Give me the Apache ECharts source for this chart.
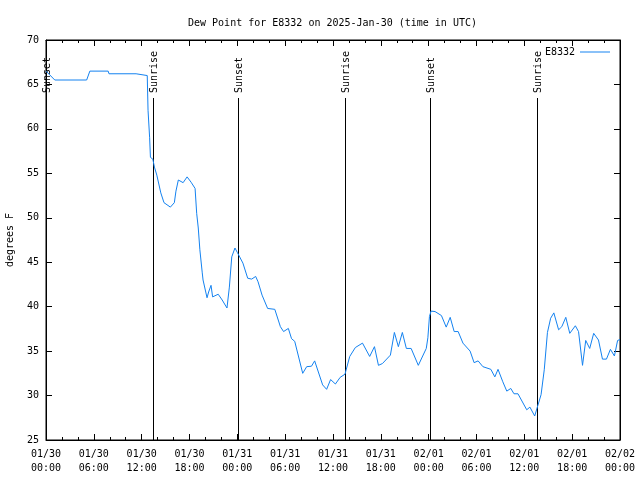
<!DOCTYPE html>
<html>
<head>
<meta charset="utf-8">
<script src="https://cdn.jsdelivr.net/npm/echarts@6/dist/echarts.min.js"></script>
<style>html,body{margin:0;padding:0;background:#fff}#c{width:640px;height:480px}</style>
</head>
<body>
<div id="c"></div>
<script>
// Hours since 2025-01-30 00:00 UTC
const hours = [0.0,1.1,5.1,5.5,7.8,7.9,11.3,11.4,12.7,12.8,13.0,13.1,13.4,13.6,13.9,14.4,14.8,15.6,16.1,16.3,16.6,17.2,17.7,18.2,18.7,18.9,19.1,19.3,19.6,19.7,20.2,20.4,20.7,20.9,21.6,22.1,22.7,23.0,23.3,23.7,24.0,24.1,24.7,25.3,25.8,26.3,26.6,27.1,27.8,28.7,29.4,29.8,30.4,30.8,31.2,32.2,32.7,33.3,33.7,34.7,35.2,35.7,36.3,36.9,37.5,38.1,38.8,39.7,40.6,41.2,41.7,42.2,43.2,43.7,44.2,44.7,45.2,45.8,46.7,47.7,47.9,48.1,48.3,48.8,49.6,50.2,50.7,51.2,51.7,52.3,53.2,53.7,54.2,54.8,55.8,56.3,56.7,57.3,57.8,58.3,58.7,59.2,60.3,60.7,61.3,61.6,62.1,62.5,62.9,63.3,63.7,64.3,64.7,65.2,65.7,66.4,66.8,67.3,67.7,68.2,68.7,69.3,69.8,70.3,70.8,71.3,71.7,72.0];
const dewPoint = [66.5,65.5,65.5,66.5,66.5,66.2,66.2,66.0,66.0,62.1,59.0,56.8,56.6,55.7,54.8,52.8,51.7,51.2,51.7,53.0,54.25,53.95,54.6,54.0,53.3,50.5,48.85,46.4,43.8,43.0,41.0,41.65,42.4,41.1,41.4,40.75,39.85,42.2,45.6,46.6,46.1,45.9,44.9,43.2,43.1,43.4,42.8,41.3,39.8,39.7,37.75,37.2,37.55,36.4,36.1,32.5,33.25,33.3,33.9,31.2,30.7,31.8,31.3,32.05,32.4,34.4,35.4,35.9,34.4,35.5,33.4,33.6,34.55,37.1,35.5,37.1,35.3,35.3,33.4,35.3,36.5,38.9,39.5,39.45,39.0,37.7,38.8,37.2,37.2,35.9,35.0,33.7,33.9,33.25,32.95,32.1,32.95,31.55,30.5,30.8,30.2,30.2,28.4,28.7,27.7,28.6,30.1,32.9,37.1,38.7,39.3,37.4,37.75,38.8,37.0,37.85,37.2,33.4,36.2,35.3,37.0,36.25,34.1,34.1,35.2,34.45,36.2,36.3];
const xTickLabels = ["01/30\n00:00","01/30\n06:00","01/30\n12:00","01/30\n18:00","01/31\n00:00","01/31\n06:00","01/31\n12:00","01/31\n18:00","02/01\n00:00","02/01\n06:00","02/01\n12:00","02/01\n18:00","02/02\n00:00"];
const sunEventHours = [0.0, 13.4, 24.1, 37.5, 48.2, 61.6];
const sunEventLabels = ["Sunset","Sunrise","Sunset","Sunrise","Sunset","Sunrise"];
const seriesName = "E8332";
const titleText = "Dew Point for E8332 on 2025-Jan-30 (time in UTC)";

const FONT = "'DejaVu Sans Mono', 'Liberation Mono', monospace";
const LINE_COLOR = '#1482f0';
const chart = echarts.init(document.getElementById('c'), null, {renderer: 'canvas'});
const pairs = hours.map((h, i) => [h, dewPoint[i]]);
const sunData = sunEventHours.map((h, i) => [h, i]);

chart.setOption({
  animation: false,
  backgroundColor: '#fff',
  textStyle: {fontFamily: FONT, fontSize: 10, color: '#000'},
  title: {
    text: titleText, left: 183, top: 13,
    textStyle: {fontFamily: FONT, fontSize: 10, fontWeight: 'normal', color: '#000'}
  },
  legend: {
    data: [seriesName], right: 25, top: 42, align: 'right',
    itemWidth: 30, itemHeight: 1, icon: 'rect', itemGap: 0,
    textStyle: {fontFamily: FONT, fontSize: 10, color: '#000', padding: [0, 0, 0, 0]}
  },
  grid: {left: 46, right: 20, top: 40, bottom: 40, show: true, borderColor: '#000', borderWidth: 1, containLabel: false, outerBoundsMode: 'none'},
  xAxis: [{
    type: 'value', min: 0, max: 72, interval: 6, position: 'bottom',
    axisLine: {onZero: false, lineStyle: {color: '#000', width: 1}},
    axisTick: {inside: true, length: 6, lineStyle: {color: '#000'}},
    minorTick: {show: true, splitNumber: 3, length: 3, lineStyle: {color: '#000'}},
    splitLine: {show: false},
    axisLabel: {
      fontFamily: FONT, fontSize: 10, color: '#000', margin: 7, lineHeight: 14,
      formatter: v => xTickLabels[Math.round(v / 6)]
    }
  }, {
    type: 'value', min: 0, max: 72, interval: 6, position: 'top',
    axisLine: {onZero: false, lineStyle: {color: '#000', width: 1}},
    axisTick: {inside: true, length: 6, lineStyle: {color: '#000'}},
    minorTick: {show: true, splitNumber: 3, length: 3, lineStyle: {color: '#000'}},
    splitLine: {show: false}, axisLabel: {show: false}
  }],
  yAxis: [{
    type: 'value', min: 25, max: 70, interval: 5, position: 'left',
    name: 'degrees F', nameLocation: 'middle', nameGap: 31, nameRotate: 90,
    nameTextStyle: {fontFamily: FONT, fontSize: 10, color: '#000'},
    axisLine: {show: true, onZero: false, lineStyle: {color: '#000', width: 1}},
    axisTick: {show: true, inside: true, length: 6, lineStyle: {color: '#000'}},
    splitLine: {show: false},
    axisLabel: {fontFamily: FONT, fontSize: 10, color: '#000', margin: 7}
  }, {
    type: 'value', min: 25, max: 70, interval: 5, position: 'right',
    axisLine: {show: true, onZero: false, lineStyle: {color: '#000', width: 1}},
    axisTick: {show: true, inside: true, length: 6, lineStyle: {color: '#000'}},
    splitLine: {show: false}, axisLabel: {show: false}
  }],
  series: [{
    name: 'sun', type: 'custom', xAxisIndex: 0, yAxisIndex: 0, silent: true, z: 1,
    data: sunData,
    renderItem: function (params, api) {
      const cs = params.coordSys;
      const x = Math.round(api.coord([api.value(0), 25])[0]) + 0.5;
      const bottom = cs.y + cs.height;
      const label = sunEventLabels[api.value(1)];
      return {
        type: 'group',
        children: [{
          type: 'line',
          shape: {x1: x, y1: bottom, x2: x, y2: cs.y + 58},
          style: {stroke: '#000', lineWidth: 1}
        }, {
          type: 'text', x: x + 1, y: cs.y + 53, rotation: Math.PI / 2,
          style: {text: label, align: 'left', verticalAlign: 'middle', font: '10px ' + FONT, fill: '#000'}
        }]
      };
    }
  }, {
    name: seriesName, type: 'line', xAxisIndex: 0, yAxisIndex: 0, z: 3,
    data: pairs, showSymbol: false, symbol: 'none',
    lineStyle: {color: LINE_COLOR, width: 1}, itemStyle: {color: LINE_COLOR}
  }]
});
</script>
</body>
</html>
